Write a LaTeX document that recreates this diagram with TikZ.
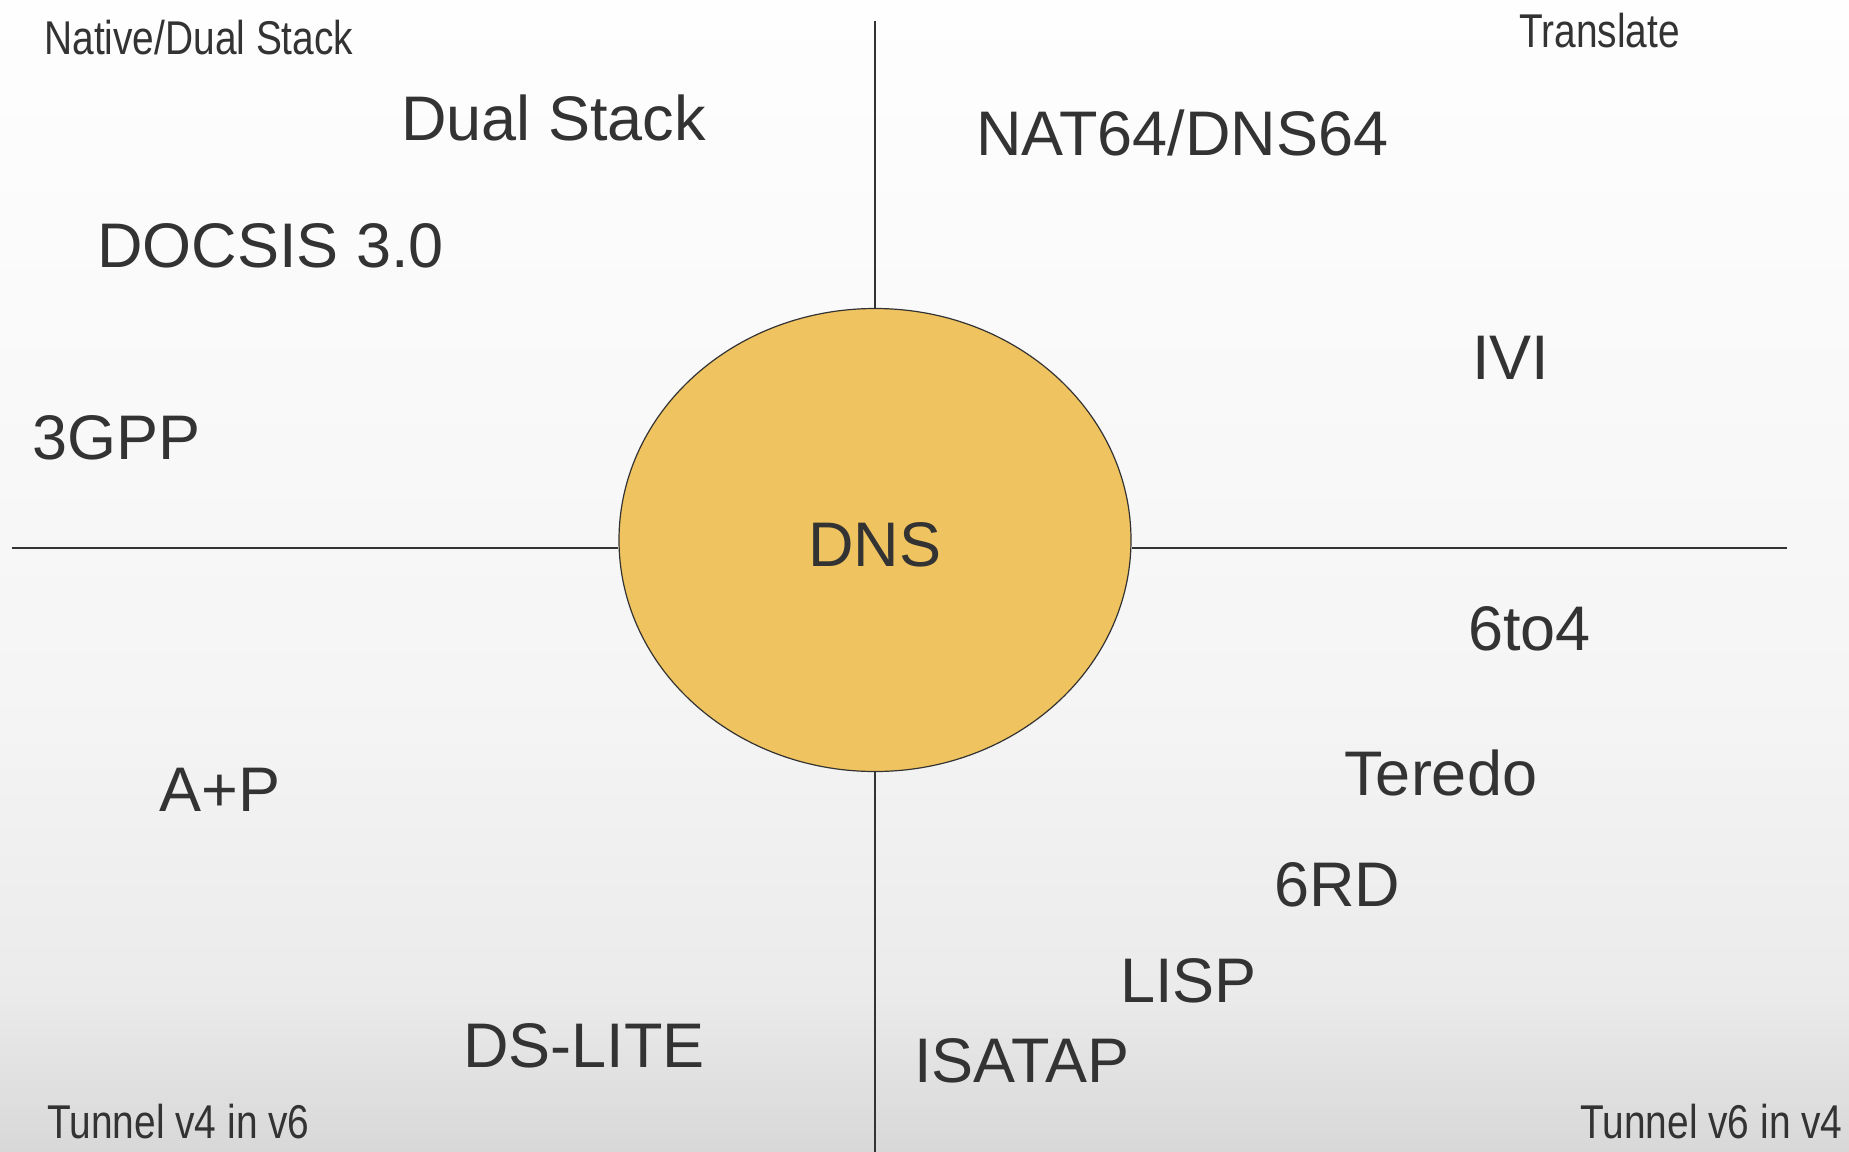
\documentclass[tikz,border=0pt]{standalone}
\usepackage{fontspec}
\setmainfont{Liberation Sans}
\newfontfamily\narrowfont[FakeStretch=0.82]{Liberation Sans}
\usetikzlibrary{shapes.geometric}
\definecolor{inkgray}{HTML}{333333}
\definecolor{dnsgold}{HTML}{EFC35F}
\definecolor{bgbot}{HTML}{D8D8D8}
\definecolor{bglow}{HTML}{EBEBEB}
\definecolor{bgmid}{HTML}{F5F5F5}
\definecolor{bgtop}{HTML}{FEFEFE}
\pgfdeclareverticalshading{bgfade}{100bp}{color(0bp)=(bgbot); color(25bp)=(bgbot); color(32bp)=(bglow); color(45bp)=(bgmid); color(75bp)=(bgtop); color(100bp)=(bgtop)}

\begin{document}
\begin{tikzpicture}[x=0.5pt, y=-0.5pt,
	lbl/.style={anchor=base west, inner sep=0pt, text=inkgray, font=\fontsize{31.5}{36}\selectfont},
	corner/.style={anchor=base west, inner sep=0pt, text=inkgray, font=\narrowfont\fontsize{23.7}{28}\selectfont},
	quad/.style={draw=inkgray, line width=0.75pt},
	dnsnode/.style={ellipse, draw=inkgray, fill=dnsgold, line width=0.6pt, minimum width=256pt, minimum height=231.5pt, inner sep=0pt, text height=26pt, text depth=0pt, text=inkgray, font=\fontsize{31.5}{36}\selectfont}]
	\useasboundingbox (0,0) rectangle (1849,1152);
	\shade[shading=bgfade] (0,0) rectangle (1849,1152);
	% centre and quadrant axes
	\node[dnsnode] (dns) at (875,540) {DNS};
	\coordinate (west end) at (12,548);
	\coordinate (east end) at (1787,548);
	\coordinate (top end) at (875,21);
	\coordinate (bottom end) at (875,1152);
	\draw[quad] (west end) -- (west end -| dns.west);
	\draw[quad] (east end -| dns.east) -- (east end);
	\draw[quad] (top end) -- (dns.north);
	\draw[quad] (dns.south) -- (bottom end);
	% quadrant titles
	\node[corner] (native) at (44,54) {Native/Dual Stack};
	\node[corner] (translate) at (1519,47) {Translate};
	\node[corner] (v4in6) at (47,1138) {Tunnel v4 in v6};
	\node[corner] (v6in4) at (1580,1138) {Tunnel v6 in v4};
	% techniques
	\node[lbl] (dualstack) at (401,140) {Dual Stack};
	\node[lbl] (docsis) at (97,267) {DOCSIS 3.0};
	\node[lbl] (gpp) at (32,459) {3GPP};
	\node[lbl] (nat64) at (976,155) {NAT64/DNS64};
	\node[lbl] (ivi) at (1472,379) {IVI};
	\node[lbl] (aplusp) at (159,811) {A+P};
	\node[lbl] (dslite) at (463,1067) {DS-LITE};
	\node[lbl] (sixtofour) at (1468,650) {6to4};
	\node[lbl] (teredo) at (1344,795) {Teredo};
	\node[lbl] (sixrd) at (1274,906) {6RD};
	\node[lbl] (lisp) at (1120,1002) {LISP};
	\node[lbl] (isatap) at (914,1082) {ISATAP};
\end{tikzpicture}
\end{document}
